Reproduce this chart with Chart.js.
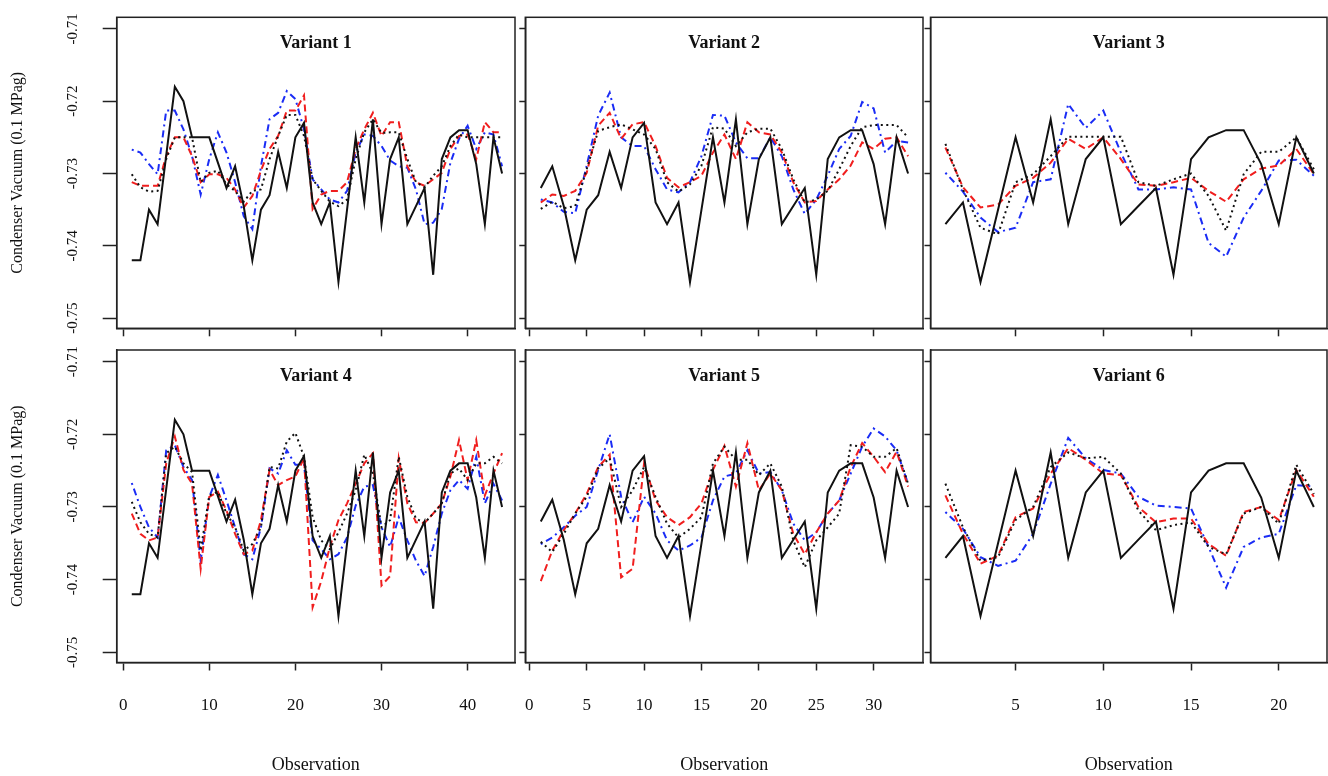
<!DOCTYPE html>
<html>
<head>
<meta charset="utf-8">
<script src="https://cdn.jsdelivr.net/npm/chart.js@4/dist/chart.umd.min.js"></script>
<style>
  html, body { margin: 0; padding: 0; background: #fff; }
  body { width: 1328px; height: 776px; position: relative; overflow: hidden; }
  canvas { position: absolute; }
</style>
</head>
<body>
<canvas id="p1" width="520" height="373" style="left:0px;top:-13px"></canvas>
<canvas id="p2" width="435" height="373" style="left:490px;top:-13px"></canvas>
<canvas id="p3" width="428" height="373" style="left:900px;top:-13px"></canvas>
<canvas id="p4" width="520" height="456" style="left:0px;top:320px"></canvas>
<canvas id="p5" width="435" height="456" style="left:490px;top:320px"></canvas>
<canvas id="p6" width="428" height="456" style="left:900px;top:320px"></canvas>
<script>
// observed condenser vacuum (black solid), 44 observations
const actual = [-0.742, -0.742, -0.735, -0.737, -0.7275, -0.718, -0.720, -0.725, -0.725, -0.725,
  -0.7285, -0.732, -0.729, -0.7345, -0.742, -0.735, -0.733, -0.727, -0.732, -0.725,
  -0.723, -0.734, -0.737, -0.734, -0.745, -0.735, -0.725, -0.734, -0.7225, -0.737,
  -0.728, -0.725, -0.737, -0.7345, -0.732, -0.744, -0.728, -0.725, -0.724, -0.724,
  -0.7287, -0.737, -0.725, -0.730];
const actual33 = actual.slice(11);
const actual22 = actual.slice(22);

const dotted1 = [-0.7301, -0.7319, -0.7325, -0.7324, -0.728, -0.725, -0.725, -0.725, -0.7312, -0.7299,
  -0.7296, -0.7315, -0.7324, -0.7339, -0.7324, -0.7322, -0.728, -0.7248, -0.7219, -0.7219,
  -0.7248, -0.7308, -0.7324, -0.7339, -0.7345, -0.7336, -0.728, -0.7243, -0.7225, -0.7244,
  -0.7243, -0.7243, -0.728, -0.7312, -0.7319, -0.7303, -0.729, -0.7262, -0.7246, -0.725,
  -0.725, -0.725, -0.725, -0.725];
const dashed1 = [-0.7312, -0.7317, -0.7317, -0.7317, -0.7276, -0.725, -0.725, -0.7276, -0.7312, -0.7301,
  -0.7301, -0.7306, -0.7322, -0.7347, -0.7331, -0.7296, -0.7266, -0.7248, -0.7213, -0.7213,
  -0.7192, -0.7349, -0.7329, -0.7324, -0.7324, -0.7312, -0.7266, -0.7239, -0.7216, -0.7248,
  -0.7229, -0.7229, -0.729, -0.7312, -0.7317, -0.7308, -0.7299, -0.7266, -0.7248, -0.7246,
  -0.728, -0.7229, -0.7243, -0.7243];
const dotdash1 = [-0.7267, -0.7271, -0.7287, -0.7301, -0.7213, -0.7213, -0.7239, -0.7276, -0.7329, -0.728,
  -0.7243, -0.7271, -0.7312, -0.7359, -0.7377, -0.729, -0.7225, -0.7216, -0.7186, -0.7197,
  -0.7239, -0.7308, -0.7322, -0.7336, -0.734, -0.7324, -0.7271, -0.7246, -0.7248, -0.7262,
  -0.7282, -0.729, -0.7292, -0.7322, -0.737, -0.7368, -0.7349, -0.7285, -0.7252, -0.7234,
  -0.7266, -0.7243, -0.7246, -0.729];

const dotted2 = [-0.7349, -0.7339, -0.7348, -0.7345, -0.7294, -0.7241, -0.7236, -0.7232, -0.7239, -0.7246,
  -0.7266, -0.7312, -0.7325, -0.7315, -0.7289, -0.7236, -0.7238, -0.7262, -0.7243, -0.7238,
  -0.7238, -0.7266, -0.7308, -0.734, -0.7336, -0.7324, -0.7294, -0.7262, -0.7236, -0.7233,
  -0.7233, -0.7233, -0.725];
const dashed2 = [-0.734, -0.7329, -0.7331, -0.7324, -0.7299, -0.7234, -0.7216, -0.7252, -0.7232, -0.7229,
  -0.7262, -0.7306, -0.7319, -0.7312, -0.7303, -0.7271, -0.7246, -0.728, -0.7229, -0.7243,
  -0.7246, -0.7271, -0.7312, -0.734, -0.7338, -0.7322, -0.7308, -0.7289, -0.7257, -0.7266,
  -0.7252, -0.725, -0.7276];
const dotdash2 = [-0.7336, -0.734, -0.7353, -0.7355, -0.7289, -0.722, -0.7188, -0.725, -0.7262, -0.7262,
  -0.7294, -0.7322, -0.7326, -0.7312, -0.7276, -0.7219, -0.722, -0.7257, -0.7279, -0.7279,
  -0.725, -0.7276, -0.7322, -0.7356, -0.7336, -0.7303, -0.7266, -0.7248, -0.7201, -0.721,
  -0.7271, -0.7255, -0.7257];

const dotted3 = [-0.7259, -0.7322, -0.7375, -0.7384, -0.7312, -0.7301, -0.7276, -0.7249, -0.7249, -0.7249,
  -0.7249, -0.7312, -0.7317, -0.7308, -0.73, -0.7331, -0.7379, -0.7301, -0.727, -0.727,
  -0.725, -0.7294];
const dashed3 = [-0.7264, -0.7319, -0.7347, -0.7343, -0.7317, -0.7306, -0.7285, -0.7252, -0.7266, -0.725,
  -0.728, -0.7315, -0.7317, -0.7312, -0.7306, -0.7324, -0.7339, -0.7308, -0.7293, -0.7289,
  -0.7266, -0.7301];
const dotdash3 = [-0.7299, -0.7325, -0.7361, -0.7381, -0.7375, -0.7312, -0.7308, -0.7204, -0.7237, -0.7213,
  -0.7271, -0.7322, -0.7322, -0.7319, -0.7322, -0.7396, -0.7415, -0.7361, -0.7324, -0.7282,
  -0.7281, -0.7303];

const dotted4 = [-0.7293, -0.7321, -0.7337, -0.7342, -0.7226, -0.7217, -0.724, -0.7252, -0.736, -0.7284,
  -0.7279, -0.7309, -0.7328, -0.736, -0.7351, -0.7328, -0.7245, -0.7247, -0.721, -0.7198,
  -0.7231, -0.7314, -0.7346, -0.7358, -0.7335, -0.7309, -0.7277, -0.7228, -0.7254, -0.7328,
  -0.7318, -0.7231, -0.7286, -0.7316, -0.7322, -0.7309, -0.7295, -0.7254, -0.7247, -0.7263,
  -0.724, -0.724, -0.7231, -0.724];
const dashed4 = [-0.7309, -0.7337, -0.7346, -0.7342, -0.724, -0.7203, -0.7249, -0.7268, -0.7385, -0.7286,
  -0.7279, -0.7305, -0.7337, -0.7365, -0.736, -0.7318, -0.7249, -0.727, -0.7263, -0.7258,
  -0.7233, -0.7438, -0.7402, -0.7355, -0.7318, -0.7295, -0.7268, -0.724, -0.7226, -0.7408,
  -0.7395, -0.7233, -0.7295, -0.7321, -0.7322, -0.7309, -0.7295, -0.7258, -0.7208, -0.7263,
  -0.7208, -0.7284, -0.7254, -0.7226];
const dotdash4 = [-0.7267, -0.73, -0.7328, -0.7342, -0.7222, -0.7215, -0.7245, -0.7263, -0.7374, -0.7286,
  -0.7256, -0.7291, -0.7328, -0.7365, -0.7372, -0.7328, -0.7247, -0.7254, -0.7222, -0.7242,
  -0.7242, -0.7346, -0.7358, -0.7372, -0.7365, -0.7342, -0.7298, -0.7272, -0.727, -0.7328,
  -0.7355, -0.7314, -0.7346, -0.7374, -0.7395, -0.7355, -0.7309, -0.7277, -0.7263, -0.7275,
  -0.7231, -0.7295, -0.7268, -0.7291];

const dotted5 = [-0.7348, -0.7362, -0.7337, -0.7309, -0.7286, -0.7247, -0.7233, -0.73, -0.7277, -0.7245,
  -0.7286, -0.7323, -0.7342, -0.733, -0.7314, -0.724, -0.7217, -0.7235, -0.7235, -0.7256,
  -0.724, -0.7272, -0.7346, -0.7383, -0.7346, -0.7328, -0.7309, -0.7215, -0.7217, -0.7231,
  -0.7231, -0.7219, -0.7268];
const dashed5 = [-0.7402, -0.736, -0.7332, -0.7309, -0.7282, -0.7245, -0.7228, -0.7397, -0.7385, -0.724,
  -0.7291, -0.7314, -0.7325, -0.7314, -0.7295, -0.7249, -0.7216, -0.7272, -0.7212, -0.7277,
  -0.7254, -0.7277, -0.7337, -0.7365, -0.7335, -0.7309, -0.7291, -0.7245, -0.7212, -0.7231,
  -0.7252, -0.7224, -0.7272];
const dotdash5 = [-0.7351, -0.7342, -0.7328, -0.7312, -0.73, -0.7249, -0.72, -0.7286, -0.7321, -0.7286,
  -0.7309, -0.7346, -0.736, -0.7353, -0.7342, -0.7291, -0.7258, -0.7254, -0.7222, -0.7254,
  -0.7252, -0.7277, -0.7323, -0.7346, -0.7335, -0.7309, -0.7291, -0.7254, -0.7217, -0.7192,
  -0.7203, -0.7222, -0.7268];

const dotted6 = [-0.7268, -0.7328, -0.7374, -0.7369, -0.7318, -0.73, -0.7245, -0.7225, -0.7233, -0.7231,
  -0.7254, -0.7305, -0.7332, -0.7325, -0.7321, -0.7355, -0.7365, -0.7309, -0.73, -0.7323,
  -0.7242, -0.7282];
const dashed6 = [-0.7284, -0.7337, -0.7378, -0.7367, -0.7314, -0.7302, -0.7254, -0.7219, -0.7235, -0.7254,
  -0.7256, -0.73, -0.7321, -0.7316, -0.7316, -0.7351, -0.7367, -0.7307, -0.73, -0.7318,
  -0.7249, -0.7286];
const dotdash6 = [-0.7307, -0.733, -0.7369, -0.7381, -0.7374, -0.7337, -0.7268, -0.7205, -0.7233, -0.7249,
  -0.7254, -0.7286, -0.7298, -0.73, -0.7302, -0.7355, -0.7411, -0.7355, -0.7342, -0.7337,
  -0.727, -0.7272];

const yTicks = [-0.75, -0.74, -0.73, -0.72, -0.71];
const xTicks44 = [0, 10, 20, 30, 40];
const xTicks33 = [0, 5, 10, 15, 20, 25, 30];
const xTicks22 = [5, 10, 15, 20];

Chart.defaults.font.family = '"Liberation Serif", "Times New Roman", serif';
Chart.defaults.color = '#111';

const ink = '#222';

// box around the plot region + the variant title inside it
const panelTitle = {
  id: 'panelTitle',
  afterDatasetsDraw(chart, args, opts) {
    const { ctx, chartArea: a } = chart;
    ctx.save();
    ctx.strokeStyle = ink;
    ctx.lineWidth = 1.5;
    ctx.strokeRect(a.left, a.top, a.right - a.left, a.bottom - a.top);
    ctx.fillStyle = '#111';
    ctx.font = 'bold 18px "Liberation Serif"';
    ctx.textAlign = 'center';
    ctx.textBaseline = 'middle';
    ctx.fillText(opts.text, (a.left + a.right) / 2, a.top + 26.5);
    ctx.restore();
  }
};

function line(values, color, dash) {
  return {
    data: values.map((y, i) => ({ x: i + 1, y: y })),
    borderColor: color,
    borderWidth: 2,
    borderDash: dash,
    pointRadius: 0,
    tension: 0,
    fill: false
  };
}

function panel(id, p) {
  new Chart(document.getElementById(id), {
    type: 'line',
    data: {
      datasets: [
        line(p.actual, '#111', []),
        line(p.dotted, '#111', [2, 3.5]),
        line(p.dashed, '#f01e1e', [7, 4]),
        line(p.dotdash, '#1a2cf5', [2, 4, 7, 4])
      ]
    },
    options: {
      responsive: false,
      animation: false,
      devicePixelRatio: 1,
      layout: {
        autoPadding: false,
        padding: { top: p.top, right: p.right, bottom: p.bot, left: 0 }
      },
      plugins: {
        legend: { display: false },
        tooltip: { enabled: false },
        panelTitle: { text: p.title }
      },
      scales: {
        x: {
          type: 'linear',
          min: p.xmin,
          max: p.xmax,
          afterBuildTicks: s => { s.ticks = p.xticks.map(v => ({ value: v })); },
          afterFit: s => { s.height = p.xh; },
          grid: { drawOnChartArea: false, tickLength: 8, tickColor: ink, tickWidth: 1.5 },
          border: { color: ink, width: 1.5 },
          ticks: {
            display: p.bottom,
            autoSkip: false,
            maxRotation: 0,
            padding: 25,
            color: '#111',
            font: { size: 17 }
          },
          title: {
            display: p.bottom,
            text: 'Observation',
            color: '#111',
            font: { size: 18 },
            padding: 0
          }
        },
        y: {
          type: 'linear',
          min: -0.7514,
          max: -0.7084,
          afterBuildTicks: s => { s.ticks = yTicks.map(v => ({ value: v })); },
          afterFit: s => { s.width = p.yw; },
          grid: { drawOnChartArea: false, tickLength: p.first ? 14 : 6, tickColor: ink, tickWidth: 1.5 },
          border: { color: ink, width: 1.5 },
          ticks: {
            display: p.first,
            minRotation: 90,
            maxRotation: 90,
            crossAlign: 'center',
            padding: 14,
            color: '#111',
            font: { size: 15 },
            callback: v => v.toFixed(2)
          },
          title: {
            display: p.first,
            text: 'Condenser Vacuum (0.1 MPag)',
            color: '#111',
            font: { size: 16 },
            padding: { top: 8, bottom: 0 }
          }
        }
      }
    },
    plugins: [panelTitle]
  });
}

// canvases are larger than the boxes so that label padding never moves the plot area
const topRow = { top: 30.3, bot: 15, xh: 16.7, bottom: false };
const bottomRow = { top: 30, bot: 0, xh: 113.5, bottom: true };
const col1 = { yw: 116.7, right: 5, first: true, xmin: -0.75, xmax: 45.5, xticks: xTicks44 };
const col2 = { yw: 35.3, right: 2, first: false, xmin: -0.35, xmax: 34.3, xticks: xTicks33 };
const col3 = { yw: 30.5, right: 1, first: false, xmin: 0.15, xmax: 22.75, xticks: xTicks22 };

panel('p1', { ...topRow, ...col1, title: 'Variant 1', actual: actual, dotted: dotted1, dashed: dashed1, dotdash: dotdash1 });
panel('p2', { ...topRow, ...col2, title: 'Variant 2', actual: actual33, dotted: dotted2, dashed: dashed2, dotdash: dotdash2 });
panel('p3', { ...topRow, ...col3, title: 'Variant 3', actual: actual22, dotted: dotted3, dashed: dashed3, dotdash: dotdash3 });
panel('p4', { ...bottomRow, ...col1, title: 'Variant 4', actual: actual, dotted: dotted4, dashed: dashed4, dotdash: dotdash4 });
panel('p5', { ...bottomRow, ...col2, title: 'Variant 5', actual: actual33, dotted: dotted5, dashed: dashed5, dotdash: dotdash5 });
panel('p6', { ...bottomRow, ...col3, title: 'Variant 6', actual: actual22, dotted: dotted6, dashed: dashed6, dotdash: dotdash6 });
</script>
</body>
</html>
